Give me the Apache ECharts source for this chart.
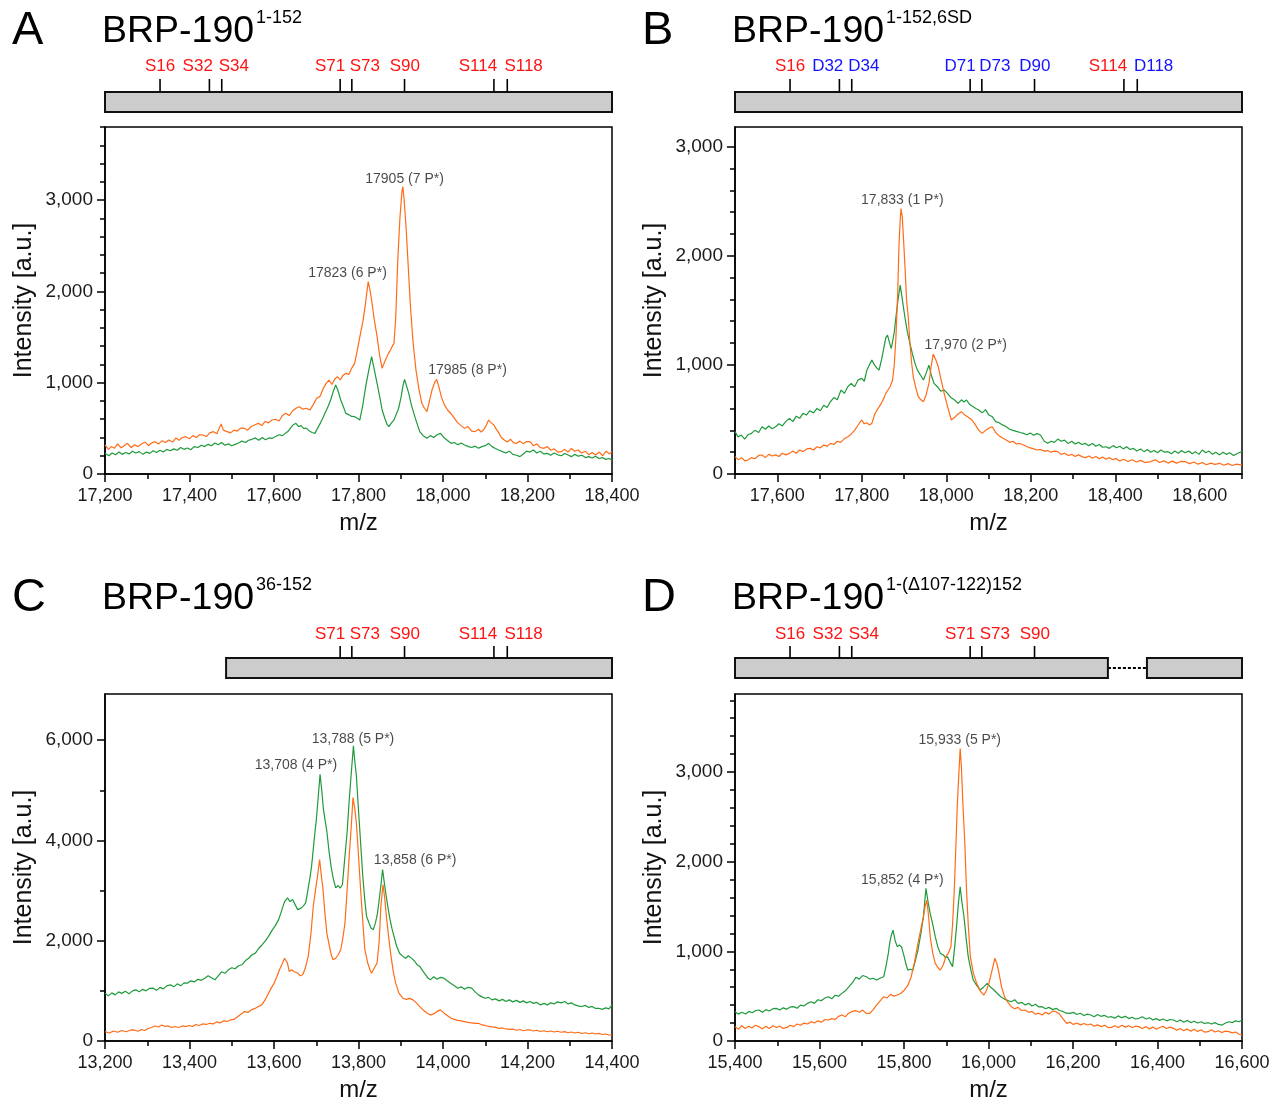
<!DOCTYPE html>
<html><head><meta charset="utf-8">
<script src="https://cdn.jsdelivr.net/npm/echarts@6/dist/echarts.min.js"></script>
<style>html,body{margin:0;padding:0;background:#fff}#c{width:1281px;height:1103px}</style>
</head><body><div id="c"></div><script>
// ---------- DATA ----------
const xRangeA = [17200, 18400], xRangeB = [17500, 18700], xRangeC = [13200, 14400], xRangeD = [15400, 16600];
const yMaxA = 3800, yMaxB = 3180, yMaxC = 6920, yMaxD = 3870;
const xTicksA = [17200,17400,17600,17800,18000,18200,18400];
const xTicksB = [17600,17800,18000,18200,18400,18600];
const xTicksC = [13200,13400,13600,13800,14000,14200,14400];
const xTicksD = [15400,15600,15800,16000,16200,16400,16600];
const yTicksA = [0,1000,2000,3000];
const yTicksB = [0,1000,2000,3000];
const yTicksC = [0,2000,4000,6000];
const yTicksD = [0,1000,2000,3000];
const yMinorStepA = 200, yMinorStepB = 200, yMinorStepC = 1000, yMinorStepD = 200;
const xMinorStep = 100;

const titleLetters = ['A','B','C','D'];
const titleName = 'BRP-190';
const titleSup = ['1-152','1-152,6SD','36-152','1-(\u0394107-122)152'];

const siteTickPos  = [16.5, 31.3, 35.0, 70.5, 74.0, 89.8, 116.6, 120.6];
const siteLabelPos = [16.5, 27.8, 38.6, 67.5, 77.9, 89.9, 111.8, 125.5];
const sitesA = ['S16','S32','S34','S71','S73','S90','S114','S118'];
const sitesB = ['S16','D32','D34','D71','D73','D90','S114','D118'];
const sitesC = [null,null,null,'S71','S73','S90','S114','S118'];
const sitesD = ['S16','S32','S34','S71','S73','S90',null,null];
const boxesA = [[0,152]], boxesB = [[0,152]], boxesC = [[36.3,152]], boxesD = [[0,111.8],[123.5,152]];
const gapsD = [[111.8,123.5]];

const annA = [[17909,3230,'17905 (7 P*)'],[17774,2197,'17823 (6 P*)'],[18058,1142,'17985 (8 P*)']];
const annB = [[17896,2513,'17,833 (1 P*)'],[18046,1182,'17,970 (2 P*)']];
const annC = [[13652,5493,'13,708 (4 P*)'],[13787,6027,'13,788 (5 P*)'],[13934,3600,'13,858 (6 P*)']];
const annD = [[15932,3359,'15,933 (5 P*)'],[15796,1791,'15,852 (4 P*)']];

const orangeA = [[17200,318],[17208,270],[17215,300],[17222,281],[17230,330],[17238,285],[17245,310],[17253,336],[17262,290],[17270,320],[17278,300],[17286,329],[17295,350],[17303,310],[17310,340],[17318,354],[17327,330],[17335,365],[17343,345],[17351,372],[17360,350],[17368,395],[17375,370],[17383,400],[17391,409],[17400,385],[17408,420],[17416,400],[17424,430],[17432,427],[17440,410],[17448,450],[17457,464],[17465,440],[17470,500],[17475,548],[17480,480],[17489,464],[17497,450],[17505,480],[17513,470],[17522,505],[17530,500],[17538,480],[17546,520],[17555,540],[17563,555],[17571,530],[17579,575],[17587,560],[17595,591],[17603,600],[17612,580],[17620,640],[17628,664],[17636,640],[17644,690],[17652,720],[17660,737],[17668,710],[17676,720],[17685,700],[17693,760],[17701,829],[17709,850],[17716,930],[17723,990],[17730,1029],[17737,980],[17744,1040],[17750,1066],[17757,1030],[17763,1080],[17770,1102],[17777,1090],[17784,1160],[17791,1212],[17797,1350],[17804,1520],[17811,1686],[17816,1850],[17820,2000],[17823,2106],[17827,2020],[17831,1905],[17837,1700],[17844,1504],[17850,1300],[17856,1157],[17862,1230],[17867,1280],[17871,1321],[17876,1360],[17880,1400],[17884,1431],[17888,1700],[17893,2343],[17898,2800],[17903,3100],[17905,3146],[17908,3000],[17913,2672],[17918,2250],[17923,1832],[17929,1450],[17936,1139],[17943,930],[17950,774],[17956,720],[17962,683],[17968,800],[17974,920],[17980,1000],[17985,1037],[17990,960],[17996,847],[18003,760],[18011,701],[18019,660],[18027,610],[18035,560],[18043,530],[18051,500],[18059,520],[18068,470],[18076,464],[18084,490],[18090,460],[18096,482],[18102,530],[18108,591],[18114,560],[18120,540],[18125,500],[18132,450],[18138,400],[18145,372],[18152,350],[18160,380],[18167,340],[18174,336],[18182,360],[18190,330],[18198,355],[18206,354],[18214,310],[18222,330],[18230,290],[18239,281],[18247,300],[18255,260],[18263,275],[18272,240],[18280,245],[18288,270],[18296,240],[18304,280],[18312,250],[18320,263],[18328,230],[18337,250],[18345,210],[18353,235],[18361,208],[18370,240],[18378,200],[18386,250],[18393,220],[18400,245]];
const greenA = [[17200,226],[17209,200],[17217,230],[17225,210],[17233,240],[17241,215],[17249,235],[17257,220],[17265,250],[17273,230],[17281,245],[17290,215],[17298,240],[17306,226],[17314,255],[17322,235],[17330,260],[17338,240],[17346,270],[17355,255],[17363,275],[17371,260],[17379,290],[17387,270],[17395,285],[17403,265],[17411,300],[17420,290],[17428,315],[17436,300],[17444,325],[17452,310],[17460,340],[17468,320],[17476,345],[17484,315],[17492,330],[17500,310],[17508,325],[17516,340],[17524,360],[17532,345],[17540,370],[17548,380],[17556,395],[17564,370],[17572,400],[17580,375],[17588,395],[17596,391],[17604,410],[17612,430],[17620,420],[17628,450],[17634,470],[17640,510],[17646,540],[17652,555],[17658,520],[17664,530],[17670,500],[17677,500],[17684,470],[17690,455],[17697,445],[17703,500],[17710,560],[17717,628],[17723,690],[17729,750],[17734,810],[17740,900],[17746,975],[17751,920],[17758,810],[17764,740],[17770,664],[17777,650],[17784,630],[17791,628],[17797,610],[17803,591],[17810,750],[17817,956],[17824,1130],[17831,1285],[17837,1150],[17844,993],[17850,850],[17856,701],[17863,600],[17868,540],[17872,518],[17878,560],[17884,590],[17888,610],[17895,720],[17901,847],[17905,960],[17909,1037],[17914,960],[17919,883],[17925,760],[17931,664],[17938,560],[17945,464],[17953,420],[17962,391],[17970,420],[17978,400],[17986,430],[17994,445],[18002,400],[18010,370],[18019,336],[18027,345],[18035,320],[18043,340],[18051,318],[18060,300],[18068,290],[18076,305],[18084,281],[18092,300],[18100,310],[18108,336],[18116,300],[18124,280],[18133,260],[18141,245],[18149,230],[18157,250],[18165,215],[18174,205],[18182,190],[18190,220],[18198,250],[18206,240],[18214,263],[18222,230],[18230,250],[18239,220],[18247,226],[18255,205],[18263,230],[18272,210],[18280,200],[18288,225],[18296,208],[18304,190],[18312,215],[18320,195],[18329,205],[18337,180],[18345,190],[18353,175],[18361,195],[18369,170],[18377,180],[18385,160],[18393,170],[18400,153]];
const orangeB = [[17500,159],[17508,130],[17516,150],[17523,120],[17531,128],[17539,150],[17547,140],[17556,170],[17564,174],[17572,150],[17580,180],[17588,165],[17596,175],[17604,160],[17612,190],[17620,175],[17629,189],[17637,210],[17645,190],[17653,220],[17661,205],[17670,230],[17678,235],[17686,220],[17694,250],[17702,240],[17710,265],[17718,255],[17726,281],[17734,270],[17742,300],[17750,290],[17758,320],[17767,342],[17775,365],[17783,400],[17790,440],[17795,470],[17800,495],[17806,460],[17812,470],[17818,450],[17824,464],[17830,540],[17836,586],[17842,620],[17848,660],[17853,700],[17857,739],[17862,770],[17867,800],[17873,861],[17877,1000],[17881,1258],[17885,1650],[17888,2082],[17891,2330],[17893,2433],[17896,2350],[17899,2143],[17903,1850],[17906,1600],[17910,1441],[17914,1200],[17918,1020],[17922,891],[17928,790],[17934,708],[17940,680],[17946,663],[17952,720],[17959,830],[17964,980],[17969,1099],[17975,1050],[17981,983],[17988,860],[17995,739],[18003,620],[18012,495],[18020,520],[18028,550],[18036,571],[18044,540],[18052,520],[18061,495],[18069,450],[18077,400],[18085,372],[18093,400],[18101,420],[18109,433],[18117,380],[18125,350],[18133,330],[18142,311],[18150,290],[18158,300],[18166,275],[18174,280],[18183,266],[18191,250],[18199,240],[18207,230],[18215,220],[18223,225],[18232,210],[18240,215],[18248,200],[18256,210],[18264,205],[18272,180],[18280,190],[18289,170],[18297,180],[18305,160],[18313,175],[18321,159],[18330,150],[18338,165],[18346,145],[18354,160],[18362,140],[18370,155],[18378,135],[18386,150],[18394,130],[18402,143],[18410,120],[18420,135],[18430,115],[18440,130],[18450,110],[18460,125],[18470,105],[18484,113],[18495,130],[18505,105],[18515,120],[18525,100],[18535,118],[18545,100],[18555,115],[18566,113],[18576,95],[18586,110],[18596,90],[18606,105],[18616,85],[18626,100],[18636,88],[18647,98],[18657,80],[18667,95],[18677,78],[18687,90],[18700,82]];
const greenB = [[17500,390],[17507,340],[17515,357],[17523,320],[17531,360],[17539,372],[17547,400],[17556,380],[17564,433],[17572,410],[17580,440],[17588,415],[17596,433],[17604,460],[17612,440],[17620,480],[17629,510],[17637,480],[17645,530],[17653,510],[17661,556],[17669,540],[17677,580],[17686,560],[17694,601],[17702,580],[17710,630],[17718,610],[17726,663],[17734,700],[17742,680],[17751,769],[17759,740],[17767,800],[17775,830],[17783,800],[17791,860],[17800,876],[17806,850],[17812,950],[17818,1000],[17824,1044],[17830,1000],[17836,970],[17841,953],[17847,1050],[17852,1150],[17857,1250],[17861,1273],[17866,1200],[17870,1150],[17873,1136],[17877,1300],[17881,1441],[17886,1600],[17891,1731],[17896,1600],[17902,1441],[17908,1300],[17914,1197],[17920,1100],[17926,1014],[17932,950],[17940,900],[17946,861],[17952,920],[17959,998],[17965,900],[17971,830],[17979,800],[17987,760],[17995,770],[18003,739],[18011,700],[18019,680],[18028,647],[18036,680],[18042,660],[18048,678],[18055,640],[18062,620],[18070,600],[18077,586],[18085,560],[18093,590],[18101,540],[18109,525],[18117,480],[18125,470],[18133,450],[18142,433],[18150,410],[18158,400],[18166,390],[18175,380],[18183,372],[18191,360],[18199,375],[18207,355],[18215,370],[18223,357],[18232,300],[18240,281],[18248,300],[18256,290],[18264,320],[18272,300],[18280,311],[18288,280],[18297,300],[18305,275],[18313,290],[18321,270],[18329,281],[18337,260],[18346,280],[18354,255],[18362,270],[18370,245],[18378,250],[18386,235],[18395,260],[18403,240],[18411,255],[18419,230],[18427,250],[18435,225],[18443,235],[18451,210],[18460,230],[18468,205],[18476,225],[18484,200],[18492,215],[18500,195],[18508,220],[18517,200],[18525,205],[18533,185],[18541,210],[18549,190],[18557,215],[18565,195],[18574,210],[18582,185],[18590,205],[18598,180],[18606,220],[18614,195],[18622,210],[18630,180],[18638,200],[18647,175],[18655,200],[18663,180],[18671,195],[18680,170],[18690,190],[18700,205]];
const orangeC = [[13200,187],[13210,160],[13220,200],[13230,175],[13240,210],[13250,185],[13260,215],[13269,220],[13278,195],[13286,230],[13294,210],[13302,250],[13310,270],[13318,300],[13326,280],[13334,320],[13342,290],[13350,300],[13358,270],[13366,290],[13374,270],[13383,300],[13391,287],[13399,310],[13407,290],[13415,330],[13423,310],[13431,340],[13440,330],[13448,353],[13456,340],[13464,380],[13472,360],[13480,400],[13489,390],[13497,420],[13505,430],[13513,480],[13521,530],[13530,587],[13538,570],[13546,620],[13555,650],[13563,687],[13571,720],[13579,820],[13587,953],[13593,1050],[13600,1150],[13607,1287],[13613,1420],[13620,1553],[13625,1650],[13628,1687],[13632,1550],[13636,1387],[13642,1420],[13648,1380],[13652,1387],[13657,1350],[13662,1300],[13668,1320],[13674,1450],[13681,1687],[13687,2100],[13693,2687],[13698,3000],[13703,3287],[13708,3620],[13712,3300],[13716,3020],[13720,2600],[13725,2153],[13731,1900],[13736,1700],[13740,1620],[13746,1650],[13752,1720],[13758,1820],[13763,2050],[13768,2353],[13773,3000],[13778,3687],[13783,4300],[13787,4853],[13791,4650],[13795,4353],[13800,3700],[13805,3020],[13810,2400],[13815,1820],[13822,1550],[13828,1400],[13831,1353],[13837,1450],[13844,1553],[13849,2000],[13853,2687],[13858,3120],[13862,2850],[13866,2487],[13871,2100],[13876,1753],[13882,1400],[13888,1153],[13896,950],[13905,853],[13913,830],[13921,850],[13929,820],[13937,760],[13945,687],[13953,620],[13962,560],[13970,520],[13978,540],[13986,590],[13994,620],[14002,560],[14010,510],[14019,453],[14027,430],[14035,410],[14043,400],[14051,387],[14059,370],[14068,360],[14076,350],[14084,353],[14092,320],[14100,310],[14108,290],[14117,280],[14125,273],[14133,250],[14141,260],[14149,240],[14157,230],[14166,235],[14174,215],[14182,230],[14190,205],[14198,220],[14206,220],[14214,200],[14222,215],[14230,190],[14239,205],[14247,185],[14255,200],[14263,180],[14271,195],[14279,175],[14288,187],[14296,165],[14304,180],[14312,160],[14320,175],[14328,150],[14337,165],[14345,145],[14353,160],[14361,140],[14369,153],[14377,130],[14385,140],[14393,120],[14400,120]];
const greenC = [[13200,953],[13208,900],[13216,960],[13224,920],[13232,980],[13240,950],[13248,990],[13257,940],[13265,1000],[13273,1020],[13281,980],[13289,1030],[13297,1000],[13306,1050],[13314,1053],[13322,1010],[13330,1070],[13338,1040],[13346,1100],[13355,1120],[13363,1080],[13371,1140],[13379,1100],[13387,1160],[13395,1153],[13403,1200],[13412,1180],[13420,1230],[13428,1210],[13436,1253],[13444,1300],[13452,1260],[13460,1220],[13468,1300],[13476,1380],[13484,1350],[13492,1420],[13500,1460],[13508,1440],[13516,1500],[13524,1520],[13532,1600],[13540,1650],[13548,1720],[13556,1753],[13564,1850],[13572,1920],[13580,2000],[13587,2087],[13595,2200],[13603,2300],[13611,2420],[13618,2600],[13625,2780],[13632,2853],[13638,2780],[13644,2820],[13650,2720],[13656,2620],[13659,2587],[13664,2650],[13670,2700],[13675,2753],[13680,3000],[13685,3250],[13689,3487],[13695,4000],[13701,4487],[13705,4900],[13709,5320],[13713,5000],[13717,4620],[13721,4400],[13725,4187],[13730,3800],[13735,3487],[13740,3250],[13746,3053],[13752,3100],[13757,3050],[13762,3120],[13767,3600],[13773,4153],[13778,4800],[13783,5353],[13788,5887],[13791,5600],[13795,5287],[13800,4600],[13805,3953],[13810,3300],[13815,2800],[13819,2487],[13825,2350],[13830,2250],[13835,2220],[13840,2350],[13845,2550],[13848,2753],[13853,3100],[13857,3420],[13862,3100],[13868,2753],[13874,2450],[13879,2250],[13884,2087],[13890,1900],[13897,1750],[13905,1687],[13912,1650],[13918,1700],[13925,1653],[13932,1600],[13939,1520],[13945,1487],[13952,1400],[13959,1320],[13965,1250],[13970,1220],[13978,1280],[13986,1230],[13994,1270],[14002,1253],[14010,1200],[14018,1150],[14027,1100],[14035,1053],[14043,1080],[14051,1030],[14059,1070],[14068,1053],[14076,980],[14084,920],[14092,880],[14100,853],[14108,870],[14116,820],[14124,840],[14133,800],[14141,830],[14149,787],[14157,820],[14165,780],[14174,810],[14182,770],[14190,800],[14198,760],[14206,787],[14214,750],[14222,770],[14231,720],[14239,750],[14247,720],[14255,760],[14263,740],[14271,780],[14280,760],[14288,787],[14296,740],[14304,760],[14312,720],[14320,700],[14328,687],[14337,710],[14345,670],[14353,690],[14361,650],[14369,653],[14377,630],[14385,660],[14393,640],[14400,720]];
const orangeD = [[15400,160],[15408,130],[15416,170],[15424,140],[15432,165],[15440,145],[15448,175],[15457,160],[15465,135],[15473,165],[15481,140],[15490,170],[15498,150],[15506,165],[15514,140],[15523,152],[15531,175],[15539,160],[15547,190],[15555,175],[15563,200],[15572,190],[15580,216],[15588,200],[15596,225],[15604,210],[15613,240],[15621,234],[15629,250],[15637,240],[15645,275],[15653,290],[15661,270],[15669,310],[15678,330],[15686,338],[15694,320],[15702,345],[15710,310],[15719,308],[15727,350],[15735,400],[15744,450],[15752,494],[15760,480],[15768,520],[15776,500],[15784,513],[15792,530],[15801,569],[15809,620],[15817,717],[15825,880],[15833,1089],[15840,1250],[15846,1386],[15850,1500],[15854,1572],[15858,1400],[15862,1163],[15868,980],[15874,866],[15880,820],[15886,791],[15893,850],[15899,940],[15905,980],[15911,1052],[15915,1300],[15919,1683],[15923,2200],[15926,2612],[15930,3000],[15933,3263],[15936,3050],[15939,2686],[15944,2200],[15948,1683],[15952,1300],[15957,940],[15964,760],[15972,643],[15980,560],[15989,513],[15995,560],[16001,643],[16008,780],[16015,922],[16020,860],[16025,754],[16031,600],[16038,494],[16046,430],[16054,383],[16062,360],[16070,375],[16078,340],[16087,346],[16095,320],[16103,330],[16111,300],[16119,310],[16127,290],[16135,320],[16143,300],[16152,335],[16160,327],[16168,300],[16176,250],[16185,197],[16193,210],[16201,185],[16209,200],[16218,180],[16226,195],[16234,178],[16242,190],[16250,165],[16258,180],[16267,160],[16275,175],[16283,150],[16291,152],[16299,170],[16307,150],[16316,175],[16324,155],[16332,170],[16340,150],[16348,165],[16356,160],[16364,140],[16373,160],[16381,135],[16389,155],[16397,130],[16405,150],[16413,165],[16421,140],[16430,155],[16438,141],[16446,120],[16454,140],[16462,115],[16470,135],[16479,110],[16487,130],[16495,105],[16503,125],[16511,100],[16520,104],[16528,125],[16536,100],[16544,115],[16552,95],[16561,110],[16569,104],[16577,90],[16585,100],[16593,75],[16600,67]];
const greenD = [[15400,327],[15408,300],[15416,320],[15425,301],[15433,330],[15441,315],[15449,340],[15457,346],[15465,320],[15473,350],[15481,335],[15490,360],[15498,364],[15506,345],[15514,370],[15522,355],[15531,380],[15539,383],[15547,365],[15555,400],[15563,390],[15572,420],[15580,438],[15588,420],[15596,460],[15604,450],[15613,480],[15621,494],[15629,470],[15637,510],[15645,500],[15653,531],[15661,560],[15669,600],[15678,650],[15686,710],[15694,690],[15702,730],[15711,717],[15719,690],[15727,700],[15735,680],[15743,700],[15752,717],[15758,850],[15763,980],[15766,1089],[15770,1180],[15774,1237],[15779,1120],[15784,1052],[15789,1070],[15794,1052],[15800,950],[15805,850],[15809,791],[15815,800],[15821,791],[15827,900],[15833,1014],[15840,1200],[15846,1386],[15849,1550],[15852,1702],[15857,1550],[15862,1423],[15868,1300],[15874,1163],[15880,1050],[15886,977],[15893,960],[15898,930],[15903,940],[15909,880],[15915,829],[15920,1050],[15925,1312],[15929,1550],[15933,1720],[15937,1550],[15942,1386],[15947,1150],[15952,940],[15958,800],[15964,680],[15972,620],[15980,569],[15988,600],[15997,643],[16005,600],[16013,569],[16021,530],[16029,494],[16037,470],[16046,450],[16054,438],[16062,460],[16070,420],[16079,430],[16087,401],[16095,420],[16103,390],[16111,410],[16119,380],[16127,383],[16135,360],[16143,375],[16152,350],[16160,364],[16168,340],[16176,330],[16184,310],[16193,308],[16201,320],[16209,295],[16217,310],[16226,285],[16234,300],[16242,290],[16250,270],[16258,295],[16266,275],[16275,285],[16283,265],[16291,271],[16299,255],[16307,280],[16315,260],[16324,275],[16332,250],[16340,265],[16348,245],[16356,253],[16364,270],[16373,245],[16381,260],[16389,235],[16397,250],[16405,230],[16413,245],[16422,225],[16430,240],[16438,234],[16446,215],[16454,235],[16462,210],[16471,230],[16479,205],[16487,220],[16495,200],[16503,215],[16511,195],[16520,204],[16528,190],[16536,205],[16544,185],[16553,178],[16561,200],[16569,215],[16577,205],[16585,225],[16593,215],[16600,234]];

// ---------- LAYOUT / STYLE ----------
const FONT = "'Liberation Sans', Arial, Helvetica, sans-serif";
const ORANGE = '#ff6c17', GREEN = '#1f9a3c', RED = '#ff1414', BLUE = '#1414ff';
const panels = [
  {left:105, top:127, boxTop:92,  xr:xRangeA, yMax:yMaxA, xt:xTicksA, yt:yTicksA, ys:yMinorStepA, o:orangeA, g:greenA, ann:annA, sites:sitesA, boxes:boxesA, gaps:[]},
  {left:735, top:127, boxTop:92,  xr:xRangeB, yMax:yMaxB, xt:xTicksB, yt:yTicksB, ys:yMinorStepB, o:orangeB, g:greenB, ann:annB, sites:sitesB, boxes:boxesB, gaps:[]},
  {left:105, top:694, boxTop:658, xr:xRangeC, yMax:yMaxC, xt:xTicksC, yt:yTicksC, ys:yMinorStepC, o:orangeC, g:greenC, ann:annC, sites:sitesC, boxes:boxesC, gaps:[]},
  {left:735, top:694, boxTop:658, xr:xRangeD, yMax:yMaxD, xt:xTicksD, yt:yTicksD, ys:yMinorStepD, o:orangeD, g:greenD, ann:annD, sites:sitesD, boxes:boxesD, gaps:gapsD},
];
const W = 507, H = 347;
function fmt(v){ return String(v).replace(/\B(?=(\d{3})+(?!\d))/g, ','); }
function steps(a, b, s){ const r=[]; for(let v=a; v<=b+1e-9; v+=s) r.push(v); return r; }

const grid = [], xAxis = [], yAxis = [], series = [], graphic = [];
const axisLineStyle = {color:'#000', width:1.5};
panels.forEach((p, i) => {
  grid.push({left:p.left, top:p.top, width:W, height:H, show:true, borderColor:'#000', borderWidth:1.5, backgroundColor:'transparent'});
  xAxis.push({gridIndex:i, type:'value', min:p.xr[0], max:p.xr[1], position:'bottom',
    axisLine:{show:true, onZero:false, lineStyle:axisLineStyle},
    axisTick:{show:true, length:8, lineStyle:axisLineStyle, customValues:p.xt},
    axisLabel:{show:true, customValues:p.xt, formatter:fmt, fontSize:18, color:'#1a1a1a', fontFamily:FONT, margin:13},
    splitLine:{show:false},
    name:'m/z', nameLocation:'middle', nameGap:37, nameTextStyle:{fontSize:24, color:'#111', fontFamily:FONT}});
  xAxis.push({gridIndex:i, type:'value', min:p.xr[0], max:p.xr[1], position:'bottom',
    axisLine:{show:false, onZero:false}, axisLabel:{show:false}, splitLine:{show:false},
    axisTick:{show:true, length:5, lineStyle:axisLineStyle, customValues:steps(p.xr[0], p.xr[1], xMinorStep)}});
  yAxis.push({gridIndex:i, type:'value', min:0, max:p.yMax, position:'left',
    axisLine:{show:true, onZero:false, lineStyle:axisLineStyle},
    axisTick:{show:true, length:8, lineStyle:axisLineStyle, customValues:p.yt},
    axisLabel:{show:true, customValues:p.yt, formatter:fmt, fontSize:19, color:'#1a1a1a', fontFamily:FONT, margin:12},
    splitLine:{show:false},
    name:'Intensity [a.u.]', nameLocation:'middle', nameGap:68, nameTextStyle:{fontSize:25, color:'#111', fontFamily:FONT}});
  yAxis.push({gridIndex:i, type:'value', min:0, max:p.yMax, position:'left',
    axisLine:{show:false, onZero:false}, axisLabel:{show:false}, splitLine:{show:false},
    axisTick:{show:true, length:5, lineStyle:axisLineStyle, customValues:steps(0, p.yMax, p.ys)}});

  series.push({type:'line', xAxisIndex:2*i, yAxisIndex:2*i, data:p.g, showSymbol:false, symbol:'none', lineStyle:{color:GREEN, width:1.2}, silent:true, z:3});
  series.push({type:'line', xAxisIndex:2*i, yAxisIndex:2*i, data:p.o, showSymbol:false, symbol:'none', lineStyle:{color:ORANGE, width:1.2}, silent:true, z:4});
  series.push({type:'scatter', xAxisIndex:2*i, yAxisIndex:2*i, data:p.ann.map(a=>[a[0],a[1]]), symbolSize:1, itemStyle:{color:'rgba(0,0,0,0)'}, silent:true, z:6,
    label:{show:true, position:'inside', formatter:(prm)=>p.ann[prm.dataIndex][2], fontSize:14, color:'#1a1a1a', fontFamily:FONT}});
});

panels.forEach((p, i) => {
  const gi = 4 + i;
  grid.push({left:p.left, top:p.boxTop, width:W, height:20, show:false});
  xAxis.push({gridIndex:gi, type:'value', min:0, max:152, show:false});
  yAxis.push({gridIndex:gi, type:'value', min:0, max:1, show:false});
  const ax = {xAxisIndex:8+i, yAxisIndex:8+i};
  const tickIdx = p.sites.map((s,k)=>s?k:-1).filter(k=>k>=0);
  const tickLen = i < 2 ? 13 : 12, labOff = i < 2 ? 26 : 24;
  series.push(Object.assign({type:'custom', clip:false, silent:true, z:5, data:p.gaps,
    renderItem:(prm, api)=>{ const a=api.coord([api.value(0),0.5]), b=api.coord([api.value(1),0.5]);
      return {type:'line', shape:{x1:a[0], y1:a[1], x2:b[0], y2:b[1]}, style:{stroke:'#000', lineWidth:2, lineDash:[3,2]}}; }}, ax));
  series.push(Object.assign({type:'custom', clip:false, silent:true, z:6, data:p.boxes,
    renderItem:(prm, api)=>{ const a=api.coord([api.value(0),1]), b=api.coord([api.value(1),0]);
      return {type:'rect', shape:{x:a[0], y:a[1], width:b[0]-a[0], height:b[1]-a[1]}, style:{fill:'#cccccc', stroke:'#111', lineWidth:2}}; }}, ax));
  series.push(Object.assign({type:'custom', clip:false, silent:true, z:6, data:tickIdx.map(k=>[siteTickPos[k]]),
    renderItem:(prm, api)=>{ const a=api.coord([api.value(0),1]);
      return {type:'line', shape:{x1:a[0], y1:a[1], x2:a[0], y2:a[1]-tickLen}, style:{stroke:'#000', lineWidth:1.6}}; }}, ax));
  series.push(Object.assign({type:'custom', clip:false, silent:true, z:6, data:tickIdx.map(k=>[siteLabelPos[k]]),
    renderItem:(prm, api)=>{ const a=api.coord([api.value(0),1]); const name=p.sites[tickIdx[prm.dataIndex]];
      return {type:'text', style:{text:name, x:a[0], y:a[1]-labOff, align:'center', verticalAlign:'middle', textAlign:'center', textVerticalAlign:'middle',
        fill: name[0]==='S'?RED:BLUE, font:'17px '+FONT}}; }}, ax));

  const ty = i < 2 ? 0 : 567;
  graphic.push({type:'text', style:{text:titleLetters[i], x:p.left-93, y:ty+31, align:'left', verticalAlign:'middle', font:'47px '+FONT, fill:'#000'}});
  graphic.push({type:'text', style:{text:titleName, x:p.left-3, y:ty+32, align:'left', verticalAlign:'middle', font:'37.5px '+FONT, fill:'#000'}});
  graphic.push({type:'text', style:{text:titleSup[i], x:p.left+151, y:ty+18, align:'left', verticalAlign:'middle', font:'18px '+FONT, fill:'#000'}});
});

const chart = echarts.init(document.getElementById('c'), null, {renderer:'canvas'});
chart.setOption({animation:false, backgroundColor:'#fff', grid, xAxis, yAxis, series, graphic});
</script></body></html>
